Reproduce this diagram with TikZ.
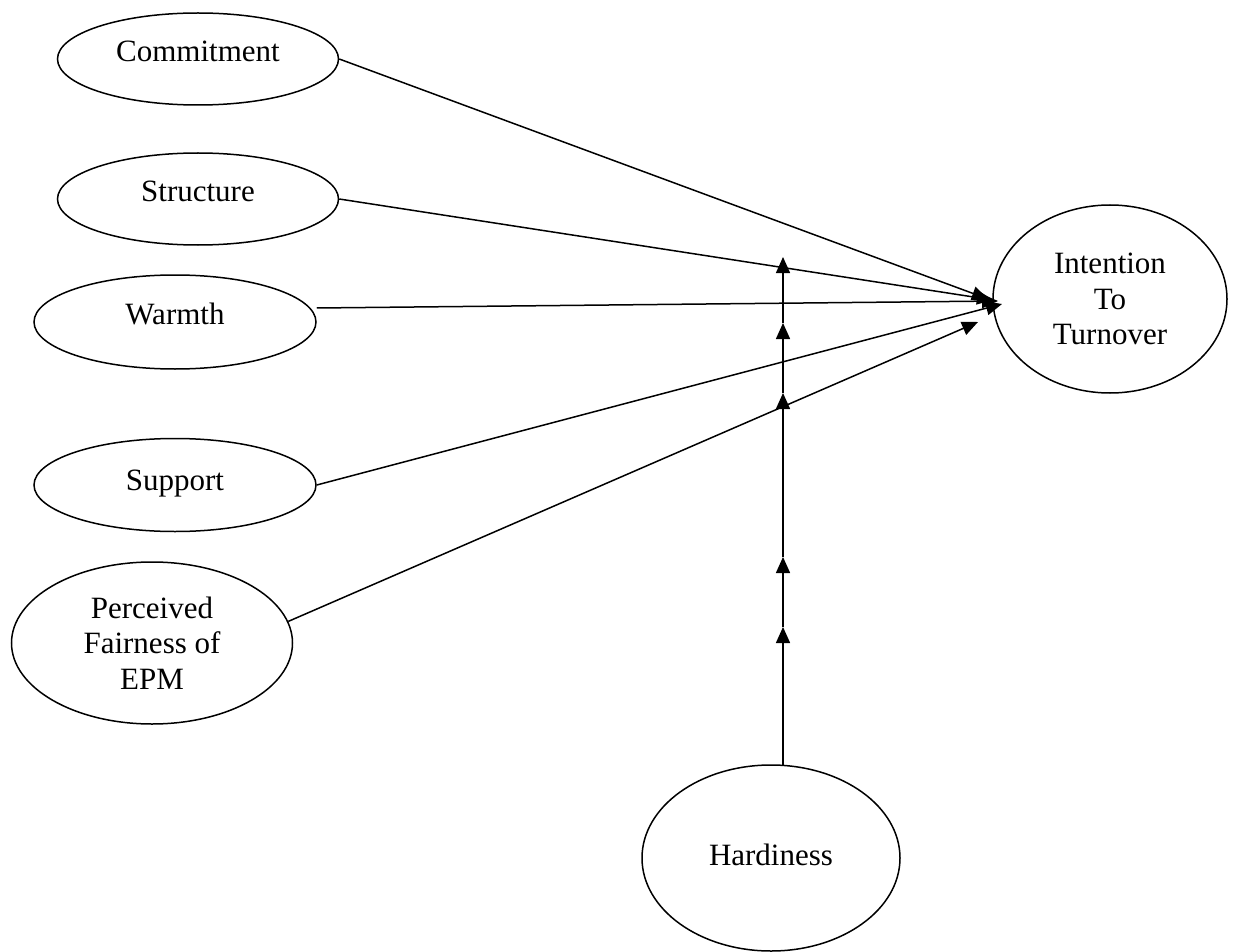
\documentclass[tikz,border=0pt]{standalone}
\usepackage{fontspec}
\setmainfont{Liberation Serif}
\usetikzlibrary{shapes.geometric,arrows.meta}
\begin{document}
\begin{tikzpicture}[x=1pt,y=-1pt,
  ell/.style={draw,ellipse,line width=1.5pt,inner sep=0pt,align=center,
    font=\fontsize{31}{35.5}\selectfont},
  one/.style={text height=21pt,text depth=#1},
  conn/.style={line width=1.5pt,-{Triangle[length=16pt,width=14pt]}}]
\useasboundingbox (0,0) rectangle (1234,952);
\node[ell,one=15pt,minimum width=281,minimum height=92] (com) at (198,59) {Commitment};
\node[ell,one=16pt,minimum width=281,minimum height=92] (str) at (198,199) {Structure};
\node[ell,one=17pt,minimum width=282,minimum height=94] (war) at (175,322) {Warmth};
\node[ell,one=11pt,minimum width=282,minimum height=93] (sup) at (175,485) {Support};
\node[ell,minimum width=281,minimum height=162] (per) at (152,643) {Perceived\\Fairness of\\EPM};
\node[ell,minimum width=234,minimum height=188] (itt) at (1110,299) {Intention\\To\\Turnover};
\node[ell,one=7pt,minimum width=258,minimum height=186] (har) at (771,858) {Hardiness};
% arrow end points near the outcome
\coordinate (tC) at (988,299);
\coordinate (tS) at (993,300);
\coordinate (tW) at (998,301);
\coordinate (tU) at (1002,304);
\coordinate (tP) at (978,322);
\draw[conn] (com.east) -- (tC);
\draw[conn] (str.east) -- (tS);
\draw[conn] ([yshift=14pt]war.east) -- (tW);
\draw[conn] (sup.east) -- (tU);
\draw[conn] (per.9) -- (tP);
% moderator line with arrowheads
\coordinate (hb) at (783,765);
\coordinate (v1) at (783,627);
\coordinate (v2) at (783,557);
\coordinate (v3) at (783,393);
\coordinate (v4) at (783,323);
\coordinate (v5) at (783,257);
\draw[conn] (hb) -- (v1);
\draw[conn] (v1) -- (v2);
\draw[conn] (v2) -- (v3);
\draw[conn] (v3) -- (v4);
\draw[conn] (v4) -- (v5);
\end{tikzpicture}
\end{document}
